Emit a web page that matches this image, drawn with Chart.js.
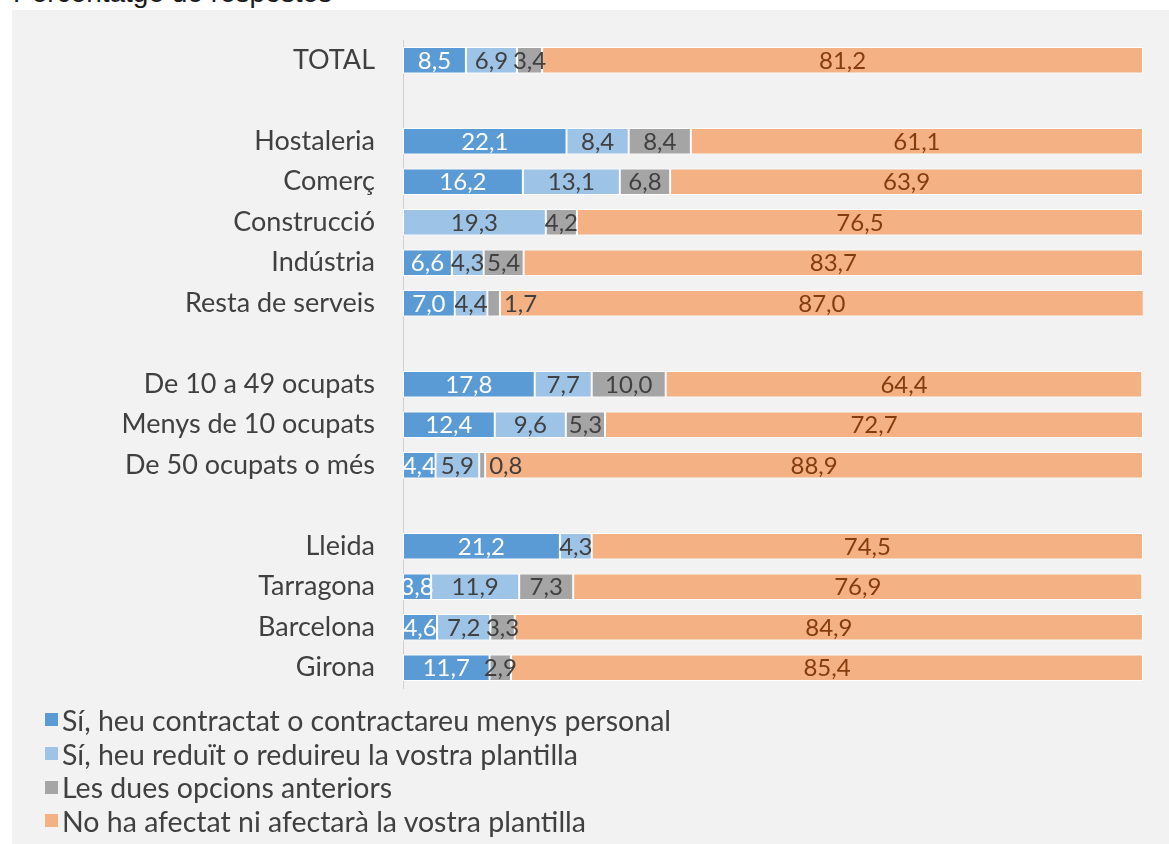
<!DOCTYPE html>
<html>
<head>
<meta charset="utf-8">
<script src="https://cdn.jsdelivr.net/npm/chart.js@4.4.1/dist/chart.umd.min.js"></script>
<style>
  html, body { margin: 0; padding: 0; background: #ffffff; width: 1169px; height: 844px; overflow: hidden; position: relative; }
  #title { position: absolute; left: 13px; top: -23px; font-family: "Liberation Sans", Arial, sans-serif; font-size: 28px; color: #1a1a1a; line-height: 32px; white-space: nowrap; }
  #panel { position: absolute; left: 12px; top: 10px; width: 1157px; height: 834px; background: #f2f2f2; }
  #wrap { position: absolute; left: 0; top: 0; width: 1157px; height: 700px; }
  #legend { position: absolute; left: 33px; top: 693px; font-family: Lato, "Open Sans", sans-serif; font-size: 28.5px; color: #404040; }
  .item { height: 33.7px; display: flex; align-items: center; white-space: nowrap; }
  .sw { width: 13px; height: 13px; margin-right: 4px; flex: none; }
</style>
</head>
<body>
<div id="title">Percentatge de respostes</div>
<div id="panel">
  <div id="wrap"><canvas id="c" width="1157" height="700"></canvas></div>
  <div id="legend"></div>
</div>
<script>
const categories = ["TOTAL", "", "Hostaleria", "Comerç", "Construcció", "Indústria", "Resta de serveis", "",
  "De 10 a 49 ocupats", "Menys de 10 ocupats", "De 50 ocupats o més", "",
  "Lleida", "Tarragona", "Barcelona", "Girona"];
const seriesNames = [
  "Sí, heu contractat o contractareu menys personal",
  "Sí, heu reduït o reduireu la vostra plantilla",
  "Les dues opcions anteriors",
  "No ha afectat ni afectarà la vostra plantilla"
];
const contractatMenys = [8.5, null, 22.1, 16.2, null, 6.6, 7.0, null, 17.8, 12.4, 4.4, null, 21.2, 3.8, 4.6, 11.7];
const reduitPlantilla = [6.9, null, 8.4, 13.1, 19.3, 4.3, 4.4, null, 7.7, 9.6, 5.9, null, 4.3, 11.9, 7.2, null];
const duesOpcions     = [3.4, null, 8.4, 6.8, 4.2, 5.4, 1.7, null, 10.0, 5.3, 0.8, null, null, 7.3, 3.3, 2.9];
const noAfectat       = [81.2, null, 61.1, 63.9, 76.5, 83.7, 87.0, null, 64.4, 72.7, 88.9, null, 74.5, 76.9, 84.9, 85.4];

const colors = ["#5b9bd5", "#9dc3e6", "#a5a5a5", "#f4b183"];
const labelColors = ["#ffffff", "#404040", "#404040", "#843c0c"];
const values = [contractatMenys, reduitPlantilla, duesOpcions, noAfectat];

const datasets = values.map((v, i) => ({
  label: seriesNames[i],
  data: v,
  backgroundColor: colors[i],
  borderColor: "#ffffff",
  borderWidth: 1,
  borderSkipped: false,
  barPercentage: 0.66,
  categoryPercentage: 1.0
}));

const labelPlugin = {
  id: "segLabels",
  afterDatasetsDraw(chart) {
    const ctx = chart.ctx;
    ctx.save();
    ctx.font = "24px Lato, 'Open Sans', sans-serif";
    ctx.textBaseline = "middle";
    chart.data.datasets.forEach((ds, di) => {
      const meta = chart.getDatasetMeta(di);
      meta.data.forEach((el, i) => {
        const v = ds.data[i];
        if (v === null || v === undefined) return;
        const w = Math.abs(el.x - el.base);
        const txt = v.toFixed(1).replace(".", ",");
        ctx.fillStyle = labelColors[di];
        if (w < 15) {
          ctx.textAlign = "left";
          ctx.fillText(txt, Math.max(el.x, el.base) + 4, el.y + 1);
        } else {
          ctx.textAlign = "center";
          ctx.fillText(txt, (el.x + el.base) / 2, el.y + 1);
        }
      });
    });
    ctx.restore();
  }
};

const chart = new Chart(document.getElementById("c"), {
  type: "bar",
  data: { labels: categories, datasets },
  options: {
    indexAxis: "y",
    responsive: false,
    animation: false,
    layout: { padding: { top: 30, bottom: 22, right: 26, left: 0 } },
    plugins: { legend: { display: false }, tooltip: { enabled: false } },
    scales: {
      x: { stacked: true, min: 0, max: 100, display: false },
      y: {
        stacked: true,
        grid: { display: false, drawTicks: false },
        border: { display: true, color: "#d0d0d0", width: 1 },
        ticks: { color: "#404040", padding: 28, font: { family: "Lato, 'Open Sans', sans-serif", size: 27 } },
        afterFit(scale) { scale.width = 391; scale.paddingTop = 0; scale.paddingBottom = 0; }
      }
    }
  },
  plugins: [labelPlugin]
});

const lg = document.getElementById("legend");
chart.data.datasets.forEach(ds => {
  const it = document.createElement("div");
  it.className = "item";
  const sw = document.createElement("span");
  sw.className = "sw";
  sw.style.background = ds.backgroundColor;
  const tx = document.createElement("span");
  tx.textContent = ds.label;
  it.appendChild(sw); it.appendChild(tx);
  lg.appendChild(it);
});
</script>
</body>
</html>
